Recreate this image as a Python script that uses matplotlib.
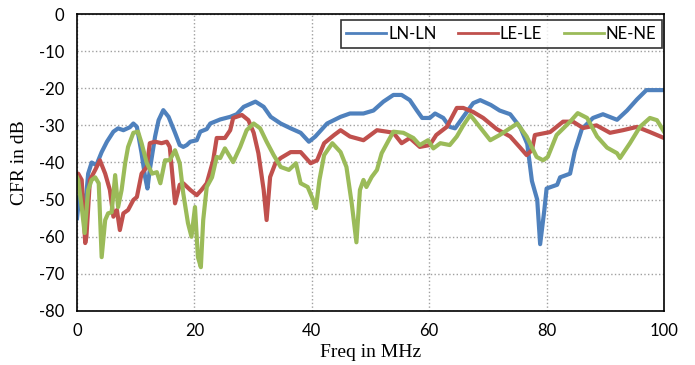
import matplotlib
matplotlib.use("Agg")
import matplotlib.pyplot as plt

# LN-LN
freq_ln = [0, 0.4, 0.8, 1.4, 1.9, 2.5, 3.3, 4.2, 5.1, 6.2, 7.0, 7.9, 9.0, 9.6, 10.2,
           11.0, 11.6, 12.0, 12.4, 13.3, 13.9, 14.7, 15.6, 16.7, 17.5, 18.1, 18.7,
           19.3, 20.4, 21.0, 22.1, 22.7, 24.4, 26.1, 27.2, 28.4, 30.4, 31.8, 33.0,
           34.7, 36.4, 38.1, 39.5, 40.6, 42.6, 44.9, 46.5, 48.8, 50.5, 52.2, 53.9,
           55.3, 56.7, 57.9, 58.8, 60.1, 61.0, 62.4, 63.5, 64.4, 65.8, 67.5, 68.7,
           70.5, 72.0, 73.8, 75.5, 76.7, 77.5, 78.4, 78.9, 79.6, 80.0, 81.8, 82.3,
           84.0, 84.8, 86.0, 87.9, 89.6, 92.0, 93.7, 95.4, 97.0, 98.0, 100]
cfr_ln = [-55, -49, -48, -52, -43, -40, -40.7, -37.2, -34.4, -31.7, -30.8, -31.3,
          -30.5, -29.5, -30.4, -37.5, -43.9, -47, -42, -33, -28.6, -25.9, -27.7,
          -32, -35.3, -35.8, -35.3, -34.4, -34, -31.7, -31, -29.5, -28.4, -27.7,
          -27, -25, -23.6, -25, -27.7, -29.5, -30.8, -32, -34.4, -33, -29.5,
          -27.7, -26.8, -26.8, -26, -23.6, -21.8, -21.8, -23.2, -26, -28, -28,
          -26.8, -28, -30.4, -30.8, -27.7, -24, -23.2, -24.5, -26, -27, -30.5,
          -35, -45, -50, -62, -53, -47, -46, -44, -43, -37, -31, -28, -27, -28.5,
          -26, -23, -20.5, -20.5, -20.5]

# LE-LE
freq_le = [0, 0.2, 0.8, 1.4, 1.6, 2.2, 3.1, 3.9, 4.8, 5.6, 6.2, 6.8, 7.3, 7.9, 8.7,
           9.6, 10.2, 11.0, 11.9, 12.4, 13.3, 14.4, 15.3, 15.8, 16.7, 17.5, 18.1,
           19.3, 20.4, 21.2, 22.1, 23.2, 23.8, 25.2, 26.1, 26.6, 28.1, 29.2, 30.1,
           30.9, 31.8, 32.3, 32.9, 33.8, 34.7, 36.4, 38.1, 39.8, 40.9, 42.1, 43.8,
           44.9, 46.5, 48.8, 51.1, 52.8, 53.9, 55.3, 56.7, 58.4, 60.1, 61.2, 63.0,
           64.7, 65.8, 67.5, 69.2, 71.5, 73.8, 75.5, 76.6, 77.5, 78.0, 80.6, 82.8,
           84.5, 86.2, 88.5, 90.8, 93.0, 95.4, 97.6, 100]
cfr_le = [-45, -43, -44.7, -61.7, -60, -44.7, -42, -39.4, -43, -47.4, -54.6, -52.8,
          -58.2, -53.7, -52.8, -50.1, -49.3, -43, -41.2, -34.8, -34.4, -34.8,
          -34.4, -35.8, -51, -46, -45.6, -47.4, -48.8, -47.4, -45.6, -39.4, -33.4,
          -33.4, -31.3, -28, -27.2, -28.6, -32, -37.5, -47.4, -55.5, -43.9, -40.2,
          -38.8, -37.2, -37.2, -40.2, -39.4, -34.8, -32.6, -31.3, -33, -34, -31.3,
          -31.7, -32, -34.8, -33.4, -35.8, -35.3, -32.6, -30.4, -25.3, -25.3,
          -26.4, -28, -31, -33, -36, -38, -36.7, -32.6, -31.8, -29, -29, -30.7,
          -30, -32, -31.3, -30.4, -31.8, -33.4]

# NE-NE
freq_ne = [0, 0.2, 0.8, 1.3, 1.9, 2.5, 3.1, 3.7, 4.2, 4.8, 5.3, 5.9, 6.5, 7.0, 7.6,
           8.2, 8.7, 9.6, 10.4, 11.0, 11.9, 12.8, 13.6, 14.2, 15.0, 15.8, 16.7,
           17.5, 18.1, 18.9, 19.5, 20.1, 20.6, 21.1, 21.5, 22.1, 23.0, 23.8, 24.4,
           25.2, 26.6, 27.8, 28.9, 30.1, 31.2, 32.3, 33.5, 34.7, 36.1, 37.3, 38.1,
           39.3, 40.2, 40.7, 41.3, 42.1, 43.5, 44.9, 45.9, 46.8, 47.6, 48.2, 48.8,
           49.3, 50.2, 51.1, 51.9, 53.1, 53.9, 55.6, 57.3, 58.4, 59.8, 60.7, 61.9,
           63.5, 64.7, 65.8, 67.0, 68.6, 70.4, 72.0, 75.0, 76.6, 78.3, 79.4, 80.2,
           81.7, 84.0, 85.3, 86.9, 88.6, 90.3, 92.0, 92.5, 94.2, 95.9, 97.6, 98.8,
           100]
cfr_ne = [-44, -44.7, -52, -59, -47.4, -44.7, -44, -45.6, -65.5, -55.5, -53.7,
          -53.4, -43.4, -52, -47.4, -40.2, -35.8, -32, -31.7, -34.8, -40.2, -43,
          -42.6, -45.6, -39.4, -39.4, -36.7, -40.2, -48.3, -56.3, -60, -52, -65.5,
          -68.2, -55.5, -46.6, -44, -38.5, -38.8, -36.2, -39.9, -35.8, -31.3,
          -29.5, -30.8, -34.4, -38, -41.2, -42, -40.2, -45.6, -46.6, -50, -52.3,
          -44.7, -38, -34.8, -37.2, -41.2, -51, -61.5, -47.4, -44.7, -46.6, -43.9,
          -42, -37.5, -34, -31.7, -32, -33.4, -35.3, -34, -36.2, -34.8, -35.3,
          -33, -30, -27.2, -30.4, -34, -32.6, -29.5, -33, -38.5, -39.4, -38.5,
          -32.6, -29, -26.7, -28, -33, -36, -37.5, -38.8, -34.8, -30.4, -28,
          -28.6, -31.7]

x_ticks = [0, 20, 40, 60, 80, 100]
y_ticks = [0, -10, -20, -30, -40, -50, -60, -70, -80]

tick_font = "Lato"
label_font = "Liberation Serif"
plt.rcParams["axes.unicode_minus"] = False

fig = plt.figure(figsize=(6.95, 3.65), dpi=100)
ax = fig.add_axes([0.1108, 0.148, 0.8446, 0.8136])

ax.plot(freq_ln, cfr_ln, color="#4F81BD", lw=3.0, label="LN-LN", solid_joinstyle="round")
ax.plot(freq_le, cfr_le, color="#C0504D", lw=3.0, label="LE-LE", solid_joinstyle="round")
ax.plot(freq_ne, cfr_ne, color="#9BBB59", lw=3.0, label="NE-NE", solid_joinstyle="round")

ax.set_xlim(0, 100)
ax.set_ylim(-80, 0)
ax.set_xticks(x_ticks)
ax.set_yticks(y_ticks)
ax.grid(True, linestyle=":", color="#A0A0A0", linewidth=1.0)
ax.set_axisbelow(True)
ax.tick_params(length=0, labelsize=12, pad=9)
for lbl in ax.get_xticklabels() + ax.get_yticklabels():
    lbl.set_family(tick_font)
for sp in ax.spines.values():
    sp.set_linewidth(1.2)
    sp.set_color("black")

ax.set_xlabel("Freq in MHz", family=label_font, fontsize=14, labelpad=3)
ax.set_ylabel("CFR in dB", family=label_font, fontsize=14, labelpad=8)

leg = ax.legend(loc="upper right", bbox_to_anchor=(0.9966, 0.98), ncol=3,
                frameon=True, fancybox=False, borderaxespad=0,
                prop={"family": tick_font, "size": 12},
                handlelength=2.4, handletextpad=0.1, columnspacing=1.3,
                borderpad=0.35)
leg.get_frame().set_edgecolor("black")
leg.get_frame().set_linewidth(1.2)
for h in leg.get_lines():
    h.set_linewidth(2.0)

fig.savefig("out.png", dpi=100)
